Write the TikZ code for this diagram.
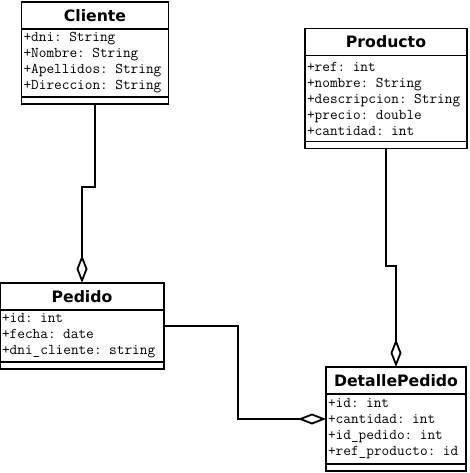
\documentclass[tikz,border=0pt]{standalone}
\usepackage{fontspec}
\usetikzlibrary{positioning,arrows.meta,calc}
\newfontfamily\classfont{DejaVu Sans}

\begin{document}
\begin{tikzpicture}[x=1pt,y=-1pt,
    classhead/.style={draw, line width=1.8pt, outer sep=0pt, minimum height=27pt,
      font=\classfont\bfseries\fontsize{15.7}{18}\selectfont},
    classattr/.style={draw, line width=1.8pt, outer sep=0pt, inner xsep=2pt, inner ysep=0pt,
      align=left, font=\ttfamily\fontsize{14.9}{16}\selectfont},
    classfoot/.style={draw, line width=1.8pt, outer sep=0pt, inner sep=0pt, minimum height=7pt},
    agg/.style={line width=2pt, -{Diamond[open, length=28pt, width=11pt, line width=1.8pt]}}]
  \useasboundingbox (0,0) rectangle (470,473);

  % Cliente
  \node[classhead, minimum width=147pt] (cliente) at (95,15.5) {Cliente};
  \node[classattr, text width=143pt, minimum height=68pt, below=0pt of cliente] (clienteattr)
    {+dni: String\\+Nombre: String\\+Apellidos: String\\+Direccion: String};
  \node[classfoot, minimum width=147pt, below=0pt of clienteattr] (clientefoot) {};

  % Producto
  \node[classhead, minimum width=162pt] (producto) at (386,42) {Producto};
  \node[classattr, text width=158pt, minimum height=86pt, below=0pt of producto] (productoattr)
    {+ref: int\\+nombre: String\\+descripcion: String\\+precio: double\\+cantidad: int};
  \node[classfoot, minimum width=162pt, below=0pt of productoattr] (productofoot) {};

  % Pedido
  \node[classhead, minimum width=164pt] (pedido) at (82,296.5) {Pedido};
  \node[classattr, text width=160pt, minimum height=52pt, below=0pt of pedido] (pedidoattr)
    {+id: int\\+fecha: date\\+dni\_cliente: string};
  \node[classfoot, minimum width=164pt, below=0pt of pedidoattr] (pedidofoot) {};

  % DetallePedido
  \node[classhead, minimum width=140pt] (detallepedido) at (396,380.5) {DetallePedido};
  \node[classattr, text width=136pt, minimum height=70pt, below=0pt of detallepedido] (detallepedidoattr)
    {+id: int\\+cantidad: int\\+id\_pedido: int\\+ref\_producto: id};
  \node[classfoot, minimum width=140pt, below=0pt of detallepedidoattr] (detallepedidofoot) {};

  % aggregations
  \draw[agg] (clientefoot.south) -- ++(0,83) -| (pedido.north);
  \draw[agg] (productofoot.south) -- ++(0,117) -| (detallepedido.north);
  \draw[agg] ($(pedido.north east)!.5!(pedidofoot.south east)$) -- ++(74,0)
    |- ($(detallepedido.north west)!.5!(detallepedidofoot.south west)$);
\end{tikzpicture}
\end{document}
